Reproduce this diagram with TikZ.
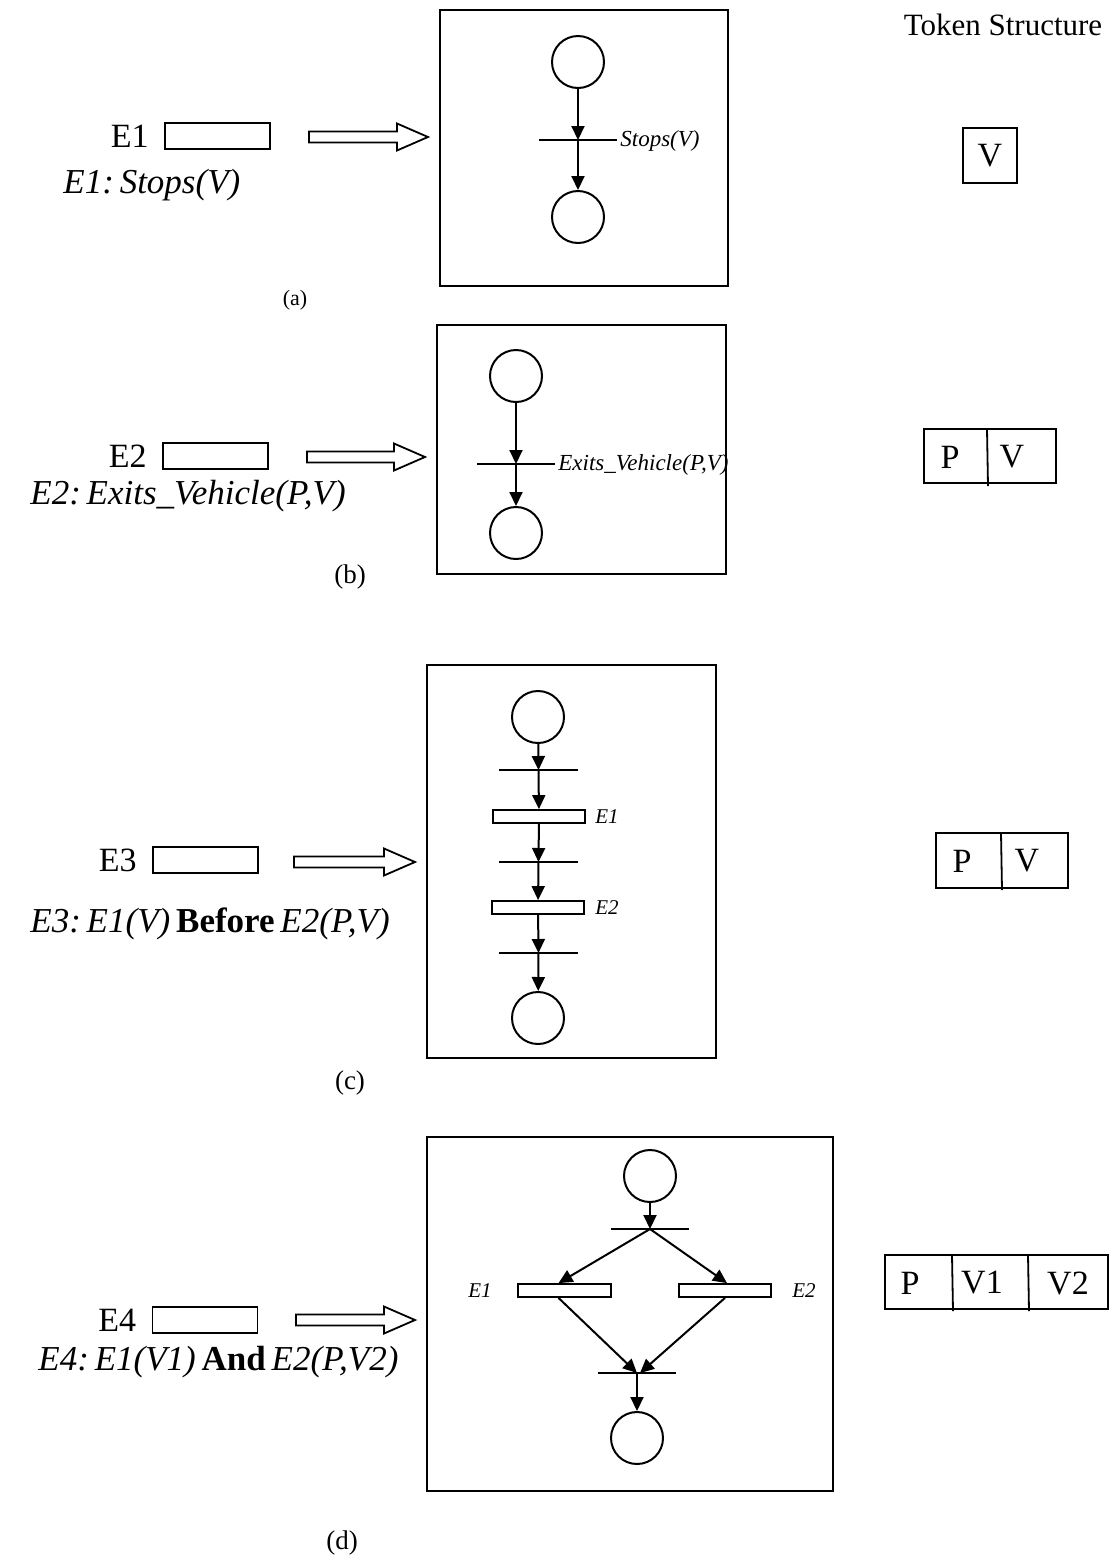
\documentclass[tikz,border=0pt]{standalone}
\usepackage{fontspec}
\setmainfont{Liberation Serif}
\usetikzlibrary{arrows.meta,positioning}

% 空心大箭头: 起点x, 尖端x, 中线y
\newcommand{\fatarrow}[3]{%
  \draw[openarr] (#1,#3-5.5) -- (#2-31,#3-5.5) -- (#2-31,#3-13.5) -- (#2,#3)
    -- (#2-31,#3+13.5) -- (#2-31,#3+5.5) -- (#1,#3+5.5) -- cycle;}

\tikzset{
  place/.style={circle, draw, line width=1pt, minimum size=26pt, inner sep=0pt},
  bar/.style={line width=1pt},
  evbox/.style={rectangle, draw, line width=0.9pt, minimum width=46pt, minimum height=6.5pt, inner sep=0pt},
  inbox/.style={rectangle, draw, line width=0.9pt, minimum width=52.5pt, minimum height=13pt, inner sep=0pt},
  frame/.style={line width=1pt},
  flow/.style={-{Triangle[length=7pt,width=6.5pt]}, line width=1pt},
  openarr/.style={line width=0.9pt},
  token/.style={draw, line width=0.9pt, inner sep=0pt},
  lbl/.style={font=\fontsize{17}{20}\selectfont, inner sep=0pt},
  desc/.style={font=\fontsize{17.5}{20}\selectfont\itshape, inner sep=0pt, anchor=west},
  tlabel/.style={font=\fontsize{11.5}{13}\selectfont\itshape, inner sep=0pt, anchor=west},
  elabel/.style={font=\fontsize{10.5}{12}\selectfont\itshape, inner sep=0pt, anchor=west},
  capt/.style={font=\fontsize{13.5}{16}\selectfont, inner sep=0pt}
}

\begin{document}
\begin{tikzpicture}[x=0.5pt, y=-0.5pt]
  \useasboundingbox (0,0) rectangle (1117,1564);
  \node[font=\fontsize{15.5}{18}\selectfont, inner sep=0pt] (ts) at (1003,25) {Token Structure};

  % 1. (a) Stops(V)
  \node[inbox] (inA) at (217.5,136) {};
  \node[lbl, left=7.5pt of inA] (eA) {E1};
  \node[desc] (dA) at (63,185) {E1:\,Stops(V)};
  \fatarrow{309}{428}{137}
  \draw[frame] (440,10) rectangle (728,286);
  \node[place] (pA1) at (578,62) {};
  \node[place] (pA2) at (578,217) {};
  \coordinate (tA) at (578,140);
  \draw[bar] ([xshift=-19.5pt]tA) -- ([xshift=19.5pt]tA);
  \node[tlabel] (lA) at (620,141) {Stops(V)};
  \draw[flow] (pA1) -- (tA);
  \draw[flow] (tA) -- (pA2);
  \node[token, lbl, minimum width=27pt, minimum height=27.5pt] (kA) at (990,155.5) {V};
  \node[capt, font=\fontsize{11}{13}\selectfont] (cA) at (295,300) {(a)};

  % 2. (b) Exits_Vehicle(P,V)
  \node[inbox] (inB) at (215.5,456) {};
  \node[lbl, left=7.5pt of inB] (eB) {E2};
  \node[desc] (dB) at (30,496) {E2:\,Exits\_Vehicle(P,V)};
  \fatarrow{307}{425}{457}
  \draw[frame] (437,325) rectangle (726,574);
  \node[place] (pB1) at (516,376) {};
  \node[place] (pB2) at (516,533) {};
  \coordinate (tB) at (516,464);
  \draw[bar] ([xshift=-19.5pt]tB) -- ([xshift=19.5pt]tB);
  \node[tlabel] (lB) at (558,465) {Exits\_Vehicle(P,V)};
  \draw[flow] (pB1) -- (tB);
  \draw[flow] (tB) -- (pB2);
  \node[token, minimum width=66pt, minimum height=27pt] (kB) at (990,456) {};
  \draw[line width=0.9pt] (987,429) -- (988,486);
  \node[lbl] (kBp) at (950,457) {P};
  \node[lbl] (kBv) at (1012,457) {V};
  \node[capt] (cB) at (350,577) {(b)};

  % 3. (c) Before
  \node[inbox] (inC) at (205.5,860) {};
  \node[lbl, left=7.5pt of inC] (eC) {E3};
  \node[desc] (dC) at (30,924) {E3:\,E1(V)\,\textbf{\upshape Before}\,E2(P,V)};
  \fatarrow{294}{415}{862}
  \draw[frame] (427,665) rectangle (716,1058);
  \node[place] (pC1) at (538,717) {};
  \coordinate (tC1) at (538.5,770);
  \node[evbox] (rC1) at (539,816.5) {};
  \coordinate (tC2) at (538.5,862);
  \node[evbox] (rC2) at (538,907.5) {};
  \coordinate (tC3) at (538.5,953);
  \node[place] (pC2) at (538,1018) {};
  \foreach \t in {tC1,tC2,tC3}
    \draw[bar] ([xshift=-19.75pt]\t) -- ([xshift=19.75pt]\t);
  \node[elabel] (lC1) at (595,817) {E1};
  \node[elabel] (lC2) at (595,908) {E2};
  \draw[flow] (pC1) -- (tC1);
  \draw[flow] (tC1) -- (rC1);
  \draw[flow] (rC1) -- (tC2);
  \draw[flow] (tC2) -- (rC2);
  \draw[flow] (rC2) -- (tC3);
  \draw[flow] (tC3) -- (pC2);
  \node[token, minimum width=66pt, minimum height=27.5pt] (kC) at (1002,860.5) {};
  \draw[line width=0.9pt] (1001,833) -- (1002,890);
  \node[lbl] (kCp) at (962,861) {P};
  \node[lbl] (kCv) at (1027,861) {V};
  \node[capt] (cC) at (350,1083) {(c)};

  % 4. (d) And
  \node[inbox] (inD) at (205,1320) {};
  \node[lbl, left=7.5pt of inD] (eD) {E4};
  \node[desc] (dD) at (38,1362) {E4:\,E1(V1)\,\textbf{\upshape And}\,E2(P,V2)};
  \fatarrow{296}{415}{1320}
  \draw[frame] (427,1137) rectangle (833,1491);
  \node[place] (pD1) at (650,1176) {};
  \coordinate (tD1) at (650,1229);
  \node[evbox, minimum width=46.5pt] (rD1) at (564.5,1290.5) {};
  \node[evbox] (rD2) at (725,1290.5) {};
  \coordinate (tD2) at (637,1373);
  \node[place] (pD2) at (637,1438) {};
  \draw[bar] ([xshift=-19.5pt]tD1) -- ([xshift=19.5pt]tD1);
  \draw[bar] ([xshift=-19.5pt]tD2) -- ([xshift=19.5pt]tD2);
  \node[elabel] (lD1) at (468,1291) {E1};
  \node[elabel] (lD2) at (792,1291) {E2};
  \draw[flow] (pD1) -- (tD1);
  \draw[flow] (tD1) -- ([xshift=-3pt]rD1.north);
  \draw[flow] (tD1) -- ([xshift=1pt]rD2.north);
  \draw[flow] ([xshift=-3pt]rD1.south) -- (tD2);
  \draw[flow] (rD2.south) -- ([xshift=1.5pt]tD2);
  \draw[flow] (tD2) -- (pD2);
  \node[token, minimum width=111.5pt, minimum height=27pt] (kD) at (996.5,1282) {};
  \draw[line width=0.9pt] (952,1255) -- (953,1311);
  \draw[line width=0.9pt] (1028,1255) -- (1029,1311);
  \node[lbl] (kDp) at (910,1283) {P};
  \node[lbl] (kDv1) at (982,1283) {V1};
  \node[lbl] (kDv2) at (1068,1283) {V2};
  \node[capt] (cD) at (342,1543) {(d)};
\end{tikzpicture}
\end{document}
